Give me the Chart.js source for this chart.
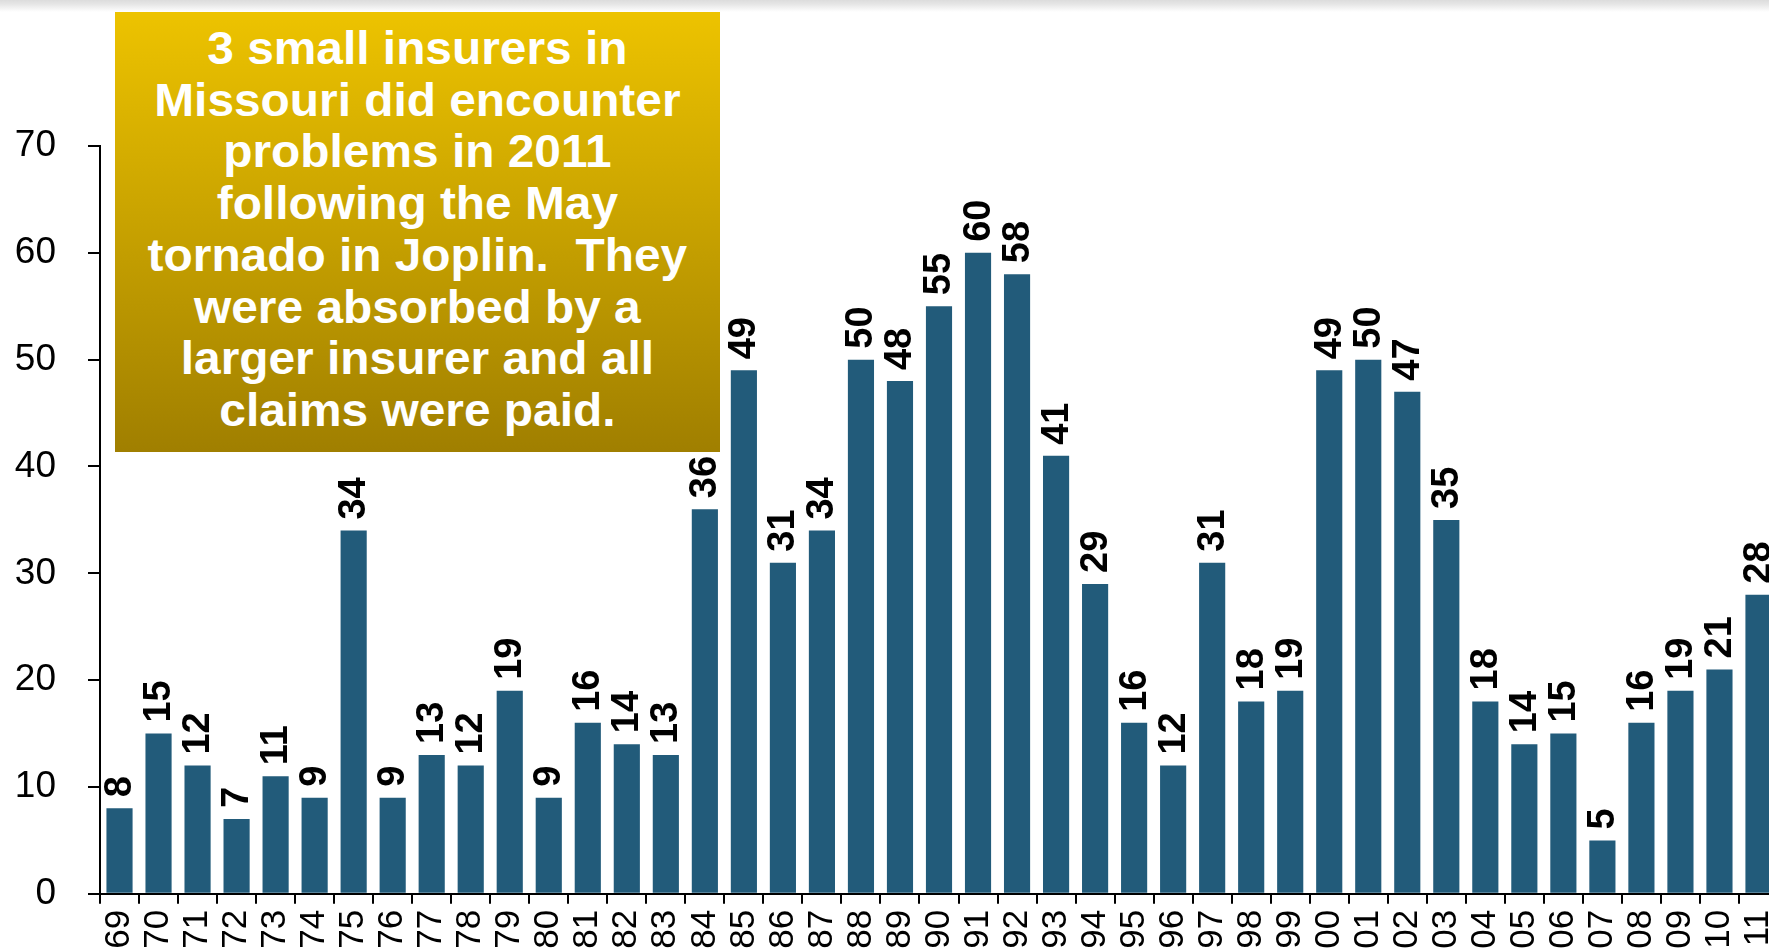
<!DOCTYPE html>
<html>
<head>
<meta charset="utf-8">
<script src="https://cdn.jsdelivr.net/npm/chart.js"></script>
<style>
  html, body { margin: 0; padding: 0; background: #fff; overflow: hidden; }
  .shade {
    position: absolute; left: 0; top: 0; width: 1769px; height: 12px;
    background: linear-gradient(to bottom, #dcdcdc 0%, #e6e6e6 35%, #ffffff 100%);
    z-index: 1;
  }
  .wrap { position: relative; width: 1778px; height: 948px; }
  .note {
    position: absolute; left: 115px; top: 12px; width: 605px; height: 440px;
    box-sizing: border-box; padding-top: 11px;
    background: linear-gradient(to bottom, #edc300 0%, #a07f00 100%);
    color: #fff; text-align: center;
    font-family: 'Liberation Sans', Arial, sans-serif; font-weight: bold;
    font-size: 46px; line-height: 51.7px;
    z-index: 2;
  }
  .note span { display: inline-block; transform: scaleX(1.04); white-space: nowrap; }
</style>
</head>
<body>
<div class="shade"></div>
<div class="wrap">
  <canvas id="chart"></canvas>
  <div class="note"><span>3 small insurers in<br>Missouri did encounter<br>problems in 2011<br>following the May<br>tornado in Joplin.&nbsp; They<br>were absorbed by a<br>larger insurer and all<br>claims were paid.</span></div>
</div>
<script>
const years = [
  '69', '70', '71', '72', '73', '74', '75', '76', '77', '78', '79',
  '80', '81', '82', '83', '84', '85', '86', '87', '88', '89',
  '90', '91', '92', '93', '94', '95', '96', '97', '98', '99',
  '00', '01', '02', '03', '04', '05', '06', '07', '08', '09',
  '10', '11',
];

const insolvencies = [
  8, 15, 12, 7, 11, 9, 34, 9, 13, 12, 19,
  9, 16, 14, 13, 36, 49, 31, 34, 50, 48,
  55, 60, 58, 41, 29, 16, 12, 31, 18, 19,
  49, 50, 47, 35, 18, 14, 15, 5, 16, 19,
  21, 28,
];

const yTicks = [0, 10, 20, 30, 40, 50, 60, 70];

const font = "'Liberation Sans', Arial, sans-serif";

// rotated value labels above each bar
const barLabels = {
  id: 'barLabels',
  afterDatasetsDraw(chart) {
    const ctx = chart.ctx;
    const meta = chart.getDatasetMeta(0);
    ctx.save();
    ctx.fillStyle = '#000';
    ctx.font = 'bold 38px ' + font;
    ctx.textAlign = 'left';
    ctx.textBaseline = 'middle';
    meta.data.forEach((bar, i) => {
      ctx.save();
      ctx.translate(bar.x, bar.y - 11);
      ctx.rotate(-Math.PI / 2);
      ctx.fillText(String(insolvencies[i]), 0, 1);
      ctx.restore();
    });
    ctx.restore();
  },
};

const config = {
  type: 'bar',
  data: {
    labels: years,
    datasets: [{
      data: insolvencies,
      backgroundColor: '#225b7a',
      borderWidth: 0,
      categoryPercentage: 1,
      barPercentage: 0.67,
    }],
  },
  options: {
    responsive: true,
    maintainAspectRatio: false,
    animation: false,
    layout: {
      padding: { top: 146, left: 0, right: 0, bottom: 0 },
    },
    plugins: {
      legend: { display: false },
      tooltip: { enabled: false },
    },
    scales: {
      x: {
        offset: true,
        grid: {
          offset: true,
          drawOnChartArea: false,
          color: '#000',
          lineWidth: 2,
          tickLength: 10,
        },
        border: { color: '#000', width: 2 },
        ticks: {
          color: '#000',
          font: { family: font, size: 35 },
          minRotation: 90,
          maxRotation: 90,
          autoSkip: false,
          padding: 6,
        },
        afterFit(scale) {
          scale.height = 54;
          scale.paddingLeft = 0;
          scale.paddingRight = 0;
        },
      },
      y: {
        min: 0,
        max: 70,
        afterBuildTicks(scale) {
          scale.ticks = yTicks.map(v => ({ value: v }));
        },
        grid: {
          drawOnChartArea: false,
          color: '#000',
          lineWidth: 2,
          tickLength: 12,
        },
        border: { color: '#000', width: 2 },
        ticks: {
          color: '#000',
          font: { family: font, size: 37 },
          padding: 32,
        },
        afterFit(scale) {
          scale.width = 100;
        },
      },
    },
  },
  plugins: [barLabels],
};

new Chart(document.getElementById('chart').getContext('2d'), config);
</script>
</body>
</html>
